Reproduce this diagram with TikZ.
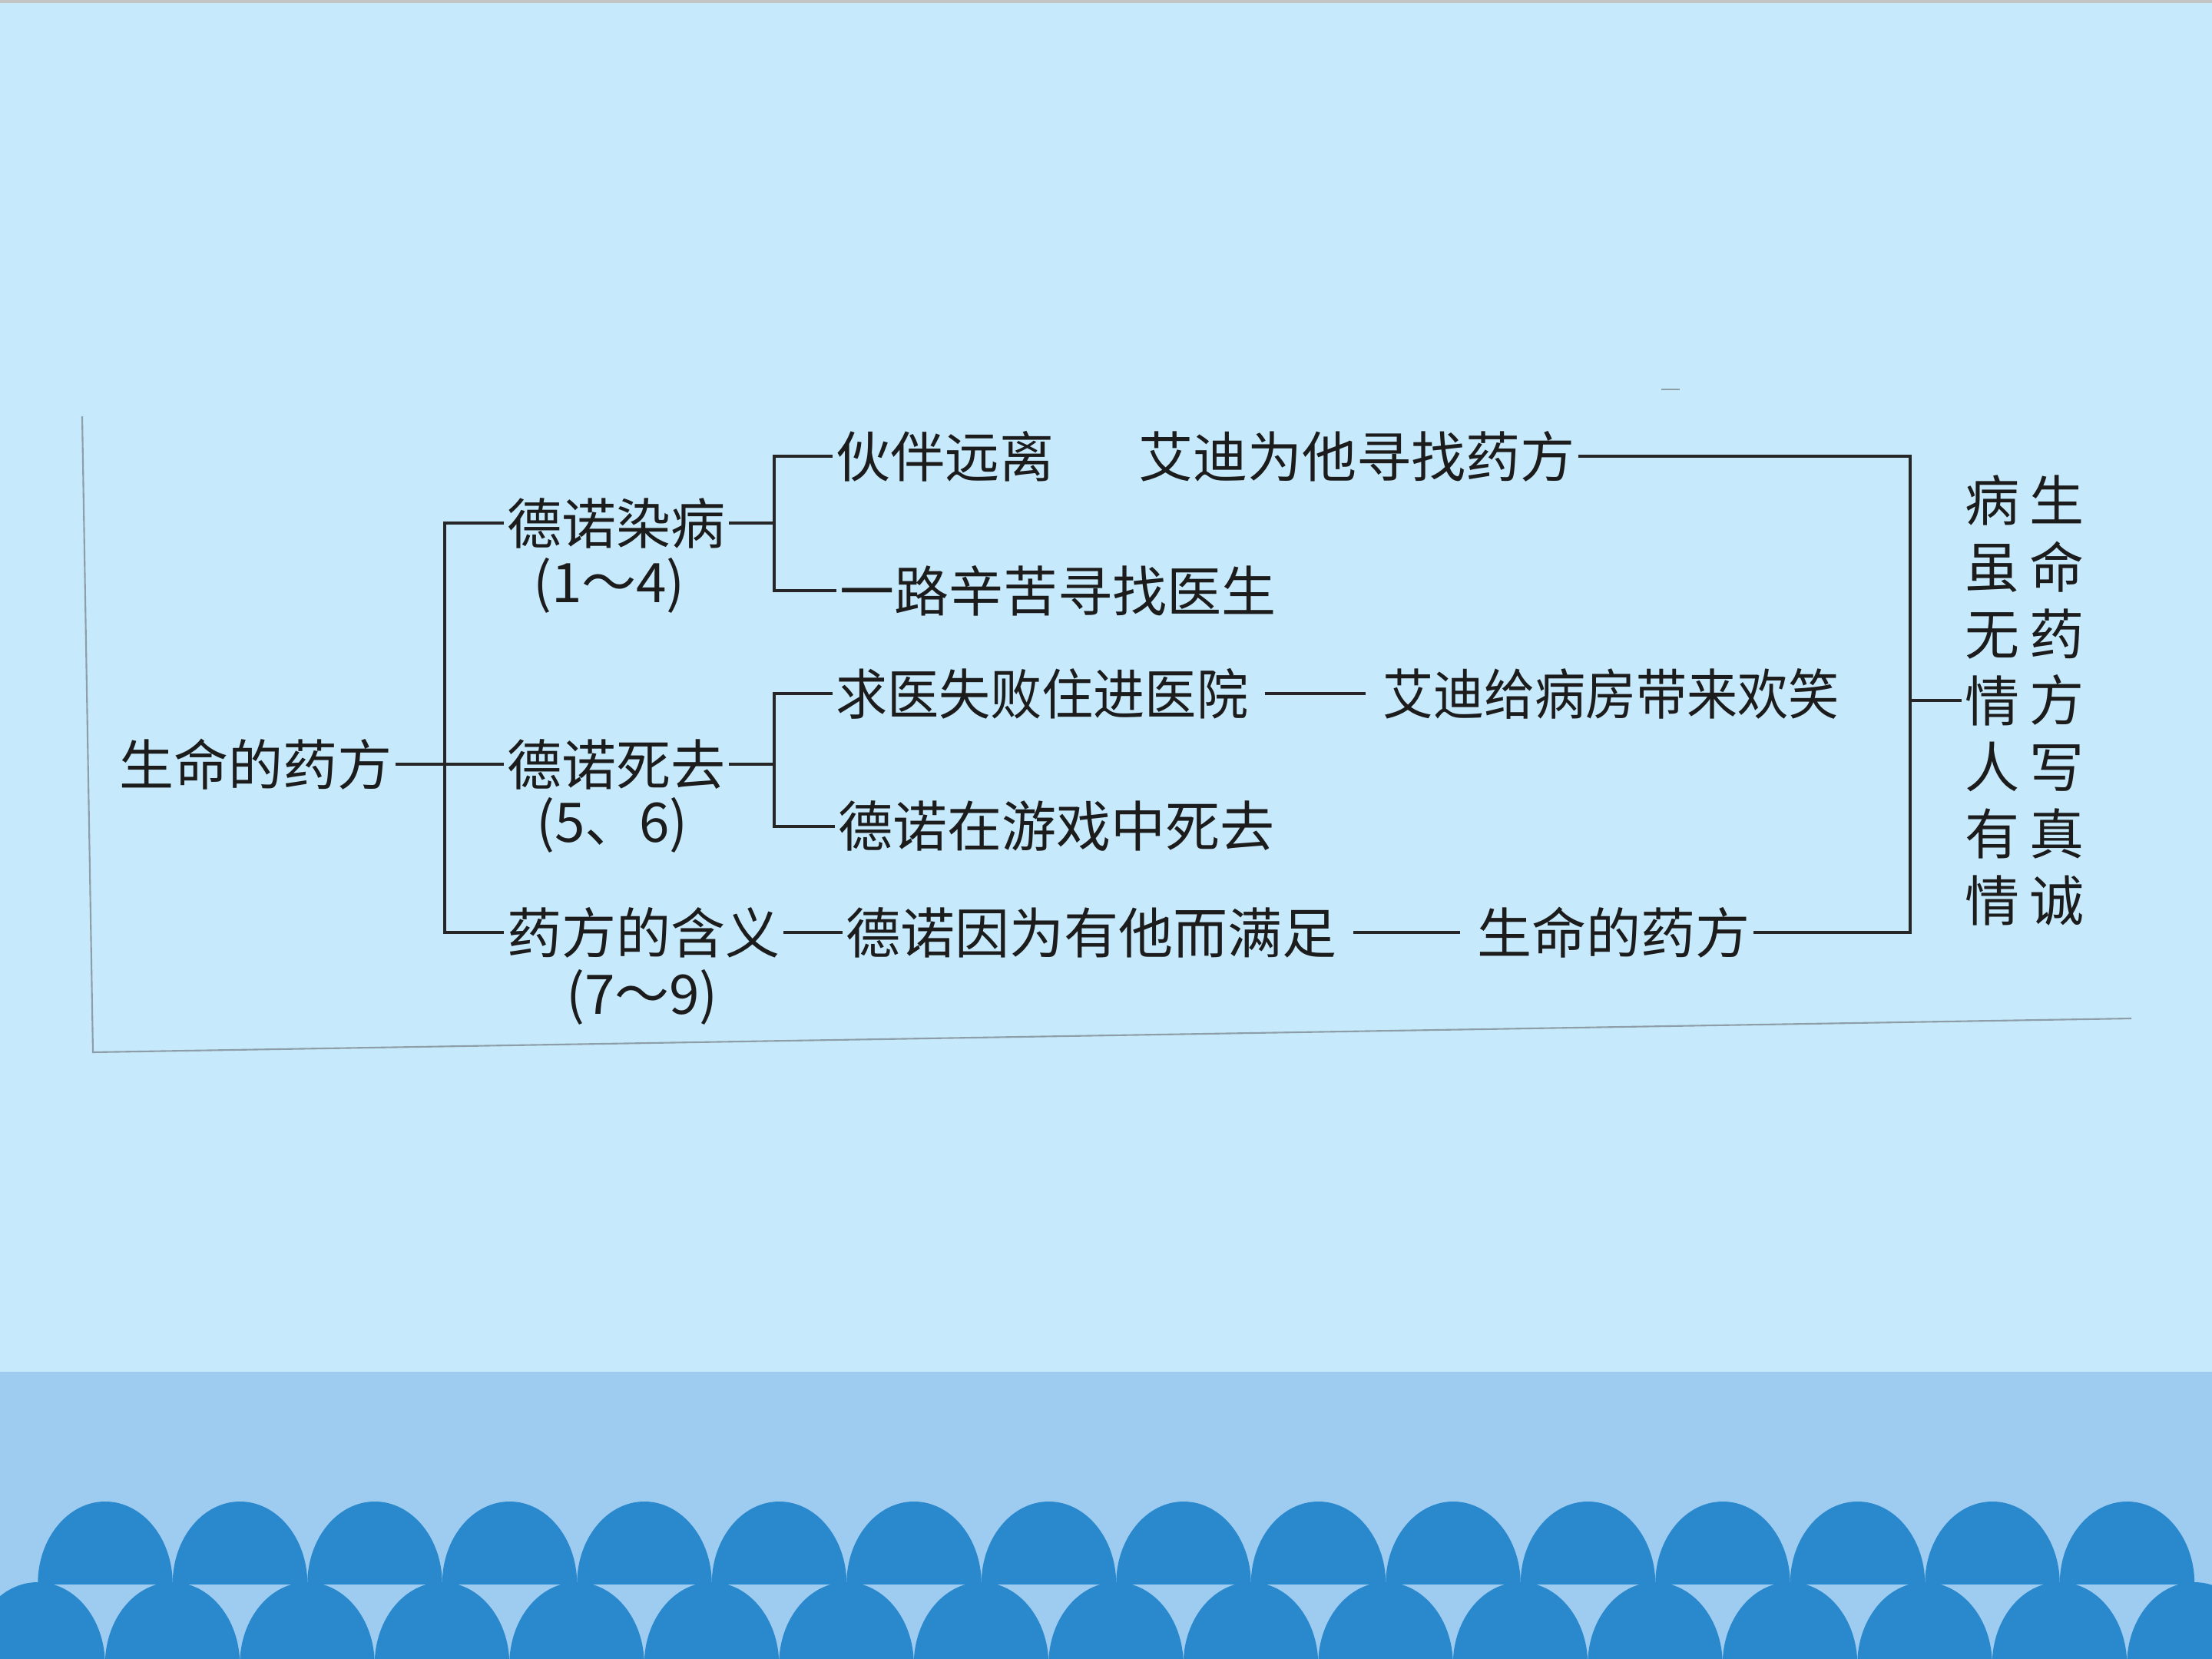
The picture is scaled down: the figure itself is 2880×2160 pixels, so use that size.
\documentclass[tikz,border=0pt]{standalone}
\usepackage{fontspec}
\newfontfamily\cjk{Noto Sans CJK SC}
\definecolor{bgtop}{HTML}{C6E9FB}
\definecolor{band}{HTML}{9ECBF0}
\definecolor{scallop}{HTML}{2A88CD}
\definecolor{topline}{HTML}{C4C4C4}
\definecolor{linec}{HTML}{262626}
\definecolor{inkc}{HTML}{1C1C1C}
\definecolor{framec}{HTML}{8E9EA8}
\newcommand{\narrowtxt}[2]{\scalebox{#1}[1]{#2}}
\begin{document}
\begin{tikzpicture}[x=0.01cm,y=-0.01cm,
  txt/.style={font=\cjk\fontsize{20.2pt}{24.7pt}\selectfont, text=inkc, inner sep=1pt},
  conn/.style={draw=linec, line width=0.9pt},
  gapconn/.style={conn, shorten <=5pt, shorten >=5pt},
  framestyle/.style={draw=framec, line width=0.6pt}]
\useasboundingbox (0,0) rectangle (2880,2160);
% background
\fill[bgtop] (0,0) rectangle (2880,1786);
\fill[band] (0,1786) rectangle (2880,2160);
\fill[topline] (0,0) rectangle (2880,4);
\begin{scope}
  \clip (0,1900) rectangle (2880,2062);
  \foreach \k in {0,...,15}
    \fill[scallop] (137+\k*175.5,2062) ellipse [x radius=87.75, y radius=107];
\end{scope}
\begin{scope}
  \clip (0,2058) rectangle (2880,2160);
  \foreach \k in {0,...,16}
    \fill[scallop] (49+\k*175.5,2167) ellipse [x radius=87.75, y radius=107];
\end{scope}
% frame of the scanned figure
\draw[framestyle] (107,542) -- (121,1370) -- (2775,1326);
\draw[framestyle] (2163,507) -- (2187,507);
% nodes
\node[txt, anchor=west] (root) at (151,995) {生命的药方};
\node[txt, anchor=west] (n1) at (656,681) {德诺染病};
\node[txt] (n1s) at (793,762) {(1～4)};
\node[txt, anchor=west] (n2) at (656,995) {德诺死去};
\node[txt] (n2s) at (797,1074) {(5、6)};
\node[txt, anchor=west] (n3) at (656,1214) {药方的含义};
\node[txt] (n3s) at (836,1298) {(7～9)};
\node[txt, anchor=west] (a1) at (1084,594) {伙伴远离};
\node[txt, anchor=west] (a2) at (1478,594) {艾迪为他寻找药方};
\node[txt, anchor=west] (b1) at (1089,769) {一路辛苦寻找医生};
\node[txt, anchor=west] (c1) at (1084,903) {\narrowtxt{0.945}{求医失败住进医院}};
\node[txt, anchor=west] (c2) at (1796,903) {\narrowtxt{0.93}{艾迪给病房带来欢笑}};
\node[txt, anchor=west] (d1) at (1087,1076) {德诺在游戏中死去};
\node[txt, anchor=west] (e1) at (1097,1214) {德诺因为有他而满足};
\node[txt, anchor=west] (e2) at (1919,1214) {生命的药方};
\node[txt, align=center] (colA) at (2594,912) {病\\虽\\无\\情\\人\\有\\情};
\node[txt, align=center] (colB) at (2678,912) {生\\命\\药\\方\\写\\真\\诚};
% junctions
\coordinate (k1) at (579,995);
\coordinate (k2) at (1008,681);
\coordinate (k3) at (1008,995);
\coordinate (k4) at (2487,912);
% connectors
\draw[conn] (root.east) -- (n2.west);
\draw[conn] (n1.west) -| (k1) |- (n3.west);
\draw[conn] (n1.east) -- (k2);
\draw[conn] (a1.west) -| (k2) |- (b1.west);
\draw[conn] (n2.east) -- (k3);
\draw[conn] (c1.west) -| (k3) |- (d1.west);
\draw[conn] (n3.east) -- (e1.west);
\draw[gapconn] (c1.east) -- (c2.west);
\draw[gapconn] (e1.east) -- (e2.west);
\draw[conn] (a2.east) -| (k4) |- (e2.east);
\draw[conn] (k4) -- (colA.west);
\end{tikzpicture}
\end{document}
